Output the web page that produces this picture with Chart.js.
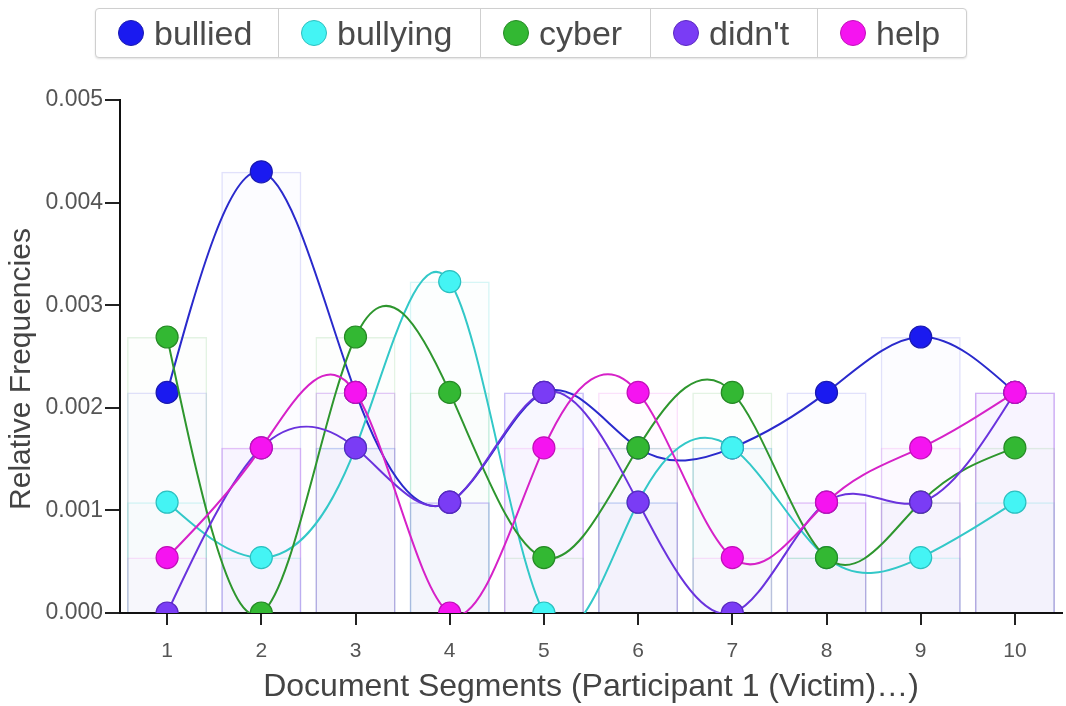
<!DOCTYPE html>
<html>
<head>
<meta charset="utf-8">
<script src="https://cdn.jsdelivr.net/npm/chart.js@4.4.1/dist/chart.umd.min.js"></script>
<style>
  html, body { margin: 0; padding: 0; background: #fff; }
  #wrap { position: relative; width: 1066px; height: 706px; overflow: hidden; }
  #c { position: absolute; left: 0; top: 0; }
  #legend { position: absolute; left: 95px; top: 8px; height: 48px; display: flex;
    border: 1px solid #cfcfcf; border-radius: 4px; box-shadow: 0 1px 2px rgba(0,0,0,0.12);
    background: #fff; font-family: "Liberation Sans", Arial, sans-serif; font-size: 34px; color: #4a4a4a; }
  #legend .item { display: flex; align-items: center; box-sizing: border-box; border-right: 1px solid #cfcfcf; padding-left: 22px; }
  #legend .item:last-child { border-right: none; }
  #legend .dot { width: 26px; height: 26px; border-radius: 50%; box-sizing: border-box; margin-right: 10px; }
</style>
</head>
<body>
<div id="wrap">
  <canvas id="c" width="1066" height="706"></canvas>
  <div id="legend"></div>
</div>
<script>
const categories = ["1","2","3","4","5","6","7","8","9","10"];
const seriesNames = ["bullied","bullying","cyber","didn't","help"];
const bullied  = [0.00215, 0.0043, 0.00215, 0.00108, 0.00215, 0.00161, 0.00161, 0.00215, 0.00269, 0.00215];
const bullying = [0.00108, 0.00054, 0.00161, 0.00323, 0.0, 0.00108, 0.00161, 0.00054, 0.00054, 0.00108];
const cyber    = [0.00269, 0.0, 0.00269, 0.00215, 0.00054, 0.00161, 0.00215, 0.00054, 0.00108, 0.00161];
const didnt    = [0.0, 0.00161, 0.00161, 0.00108, 0.00215, 0.00108, 0.0, 0.00108, 0.00108, 0.00215];
const help     = [0.00054, 0.00161, 0.00215, 0.0, 0.00161, 0.00215, 0.00054, 0.00108, 0.00161, 0.00215];
const yTicks = [0, 0.001, 0.002, 0.003, 0.004, 0.005];
const yTitle = 'Relative Frequencies';
const xTitle = 'Document Segments (Participant 1 (Victim)…)';

const seriesData = [bullied, bullying, cyber, didnt, help];
const fills  = ["#1a1af0", "#44f4f4", "#33b833", "#7a3cf5", "#f514f0"];
const strokes = ["#2a2acc", "#33c8c8", "#2e962e", "#6a33dd", "#d622c8"];
const pointBorders = ["#1a1ab0", "#2cc0c0", "#268a26", "#5a28c0", "#c010b8"];
const barBorders = ["rgba(120,120,235,0.22)", "rgba(90,220,220,0.25)", "rgba(100,190,100,0.18)", "rgba(140,100,240,0.25)", "rgba(235,90,235,0.18)"];
const barFills = ["rgba(120,120,235,0.025)", "rgba(90,220,220,0.02)", "rgba(100,190,100,0.015)", "rgba(140,100,240,0.03)", "rgba(235,90,235,0.015)"];

// HTML legend
const legendWidths = [183, 202, 170, 167, 148];
const lg = document.getElementById('legend');
seriesNames.forEach((n, i) => {
  const it = document.createElement('div');
  it.className = 'item';
  it.style.width = legendWidths[i] + 'px';
  const d = document.createElement('span');
  d.className = 'dot';
  d.style.background = fills[i];
  d.style.border = '1px solid ' + pointBorders[i];
  const t = document.createElement('span');
  t.textContent = n;
  it.appendChild(d); it.appendChild(t);
  lg.appendChild(it);
});

const datasets = [];
seriesData.forEach((arr, i) => {
  datasets.push({
    type: 'line',
    label: seriesNames[i],
    data: arr,
    borderColor: strokes[i],
    backgroundColor: fills[i],
    pointBackgroundColor: fills[i],
    pointBorderColor: pointBorders[i],
    pointBorderWidth: 1.2,
    pointRadius: 11,
    borderWidth: 2,
    tension: 0.4,
    fill: false,
    order: 10 - i
  });
});
seriesData.forEach((arr, i) => {
  datasets.push({
    type: 'bar',
    label: seriesNames[i] + ' bar',
    data: arr,
    backgroundColor: barFills[i],
    borderColor: barBorders[i],
    borderWidth: 1.5,
    grouped: false,
    barPercentage: 0.85,
    categoryPercentage: 1.0,
    order: 30 - i
  });
});

// Natural cubic spline control points (like d3.curveNatural), from the library's own point positions
function naturalCP(x) {
  const n = x.length - 1;
  const a = new Array(n), b = new Array(n), r = new Array(n);
  if (n < 1) return [a, b];
  if (n === 1) { a[0] = (2 * x[0] + x[1]) / 3; b[0] = (x[0] + 2 * x[1]) / 3; return [a, b]; }
  a[0] = 0; b[0] = 2; r[0] = x[0] + 2 * x[1];
  for (let i = 1; i < n - 1; ++i) { a[i] = 1; b[i] = 4; r[i] = 4 * x[i] + 2 * x[i + 1]; }
  a[n - 1] = 2; b[n - 1] = 7; r[n - 1] = 8 * x[n - 1] + x[n];
  for (let i = 1; i < n; ++i) { const m = a[i] / b[i - 1]; b[i] -= m; r[i] -= m * r[i - 1]; }
  a[n - 1] = r[n - 1] / b[n - 1];
  for (let i = n - 2; i >= 0; --i) a[i] = (r[i] - a[i + 1]) / b[i];
  b[n - 1] = (x[n] + a[n - 1]) / 2;
  for (let i = 0; i < n - 1; ++i) b[i] = 2 * x[i + 1] - a[i + 1];
  return [a, b];
}
const naturalPlugin = {
  id: 'natural',
  beforeDatasetDraw(chart, args) {
    const meta = args.meta;
    if (meta.type !== 'line') return;
    const pts = meta.data;
    const [ax, bx] = naturalCP(pts.map(p => p.x));
    const [ay, by] = naturalCP(pts.map(p => p.y));
    for (let i = 0; i < pts.length - 1; i++) {
      pts[i].cp2x = ax[i]; pts[i].cp2y = ay[i];
      pts[i + 1].cp1x = bx[i]; pts[i + 1].cp1y = by[i];
    }
    pts[0].cp1x = pts[0].x; pts[0].cp1y = pts[0].y;
    const last = pts[pts.length - 1];
    last.cp2x = last.x; last.cp2y = last.y;
    meta.dataset._pointsUpdated = true;
  }
};

const font = "'Liberation Sans', Arial, sans-serif";
const yTitlePlugin = {
  id: 'yTitle',
  afterDraw(chart) {
    const ctx = chart.ctx;
    ctx.save();
    ctx.translate(22, 369);
    ctx.rotate(-Math.PI / 2);
    ctx.fillStyle = '#444';
    ctx.font = "30px " + font;
    ctx.textAlign = 'center';
    ctx.textBaseline = 'middle';
    ctx.fillText(yTitle, 0, 0);
    ctx.restore();
  }
};

new Chart(document.getElementById('c'), {
  data: { labels: categories, datasets },
  plugins: [naturalPlugin, yTitlePlugin],
  options: {
    responsive: false,
    animation: false,
    events: [],
    layout: { autoPadding: false, padding: { top: 100, right: 4, left: 0, bottom: 0 } },
    plugins: { legend: { display: false }, tooltip: { enabled: false } },
    scales: {
      x: {
        type: 'category',
        offset: true,
        grid: { offset: false, drawOnChartArea: false, drawTicks: true, tickLength: 12, color: '#222', lineWidth: 2 },
        border: { color: '#111', width: 2 },
        ticks: { color: '#555', font: { family: font, size: 21 }, padding: 14, maxRotation: 0 },
        title: { display: true, text: xTitle, color: '#444', font: { family: font, size: 32 }, padding: { top: 0, bottom: 0 } },
        afterFit: (s) => { s.height = 93; s.paddingLeft = 0; s.paddingRight = 0; }
      },
      y: {
        min: 0, max: 0.005,
        afterBuildTicks: (s) => { s.ticks = yTicks.map(v => ({ value: v })); },
        grid: { drawOnChartArea: false, drawTicks: true, tickLength: 15, color: '#222', lineWidth: 2 },
        border: { color: '#111', width: 2 },
        ticks: { color: '#555', font: { family: font, size: 23 }, padding: 2, callback: (v) => Number(v).toFixed(3) },
        title: { display: false },
        afterFit: (s) => { s.width = 120; }
      }
    }
  }
});
</script>
</body>
</html>
